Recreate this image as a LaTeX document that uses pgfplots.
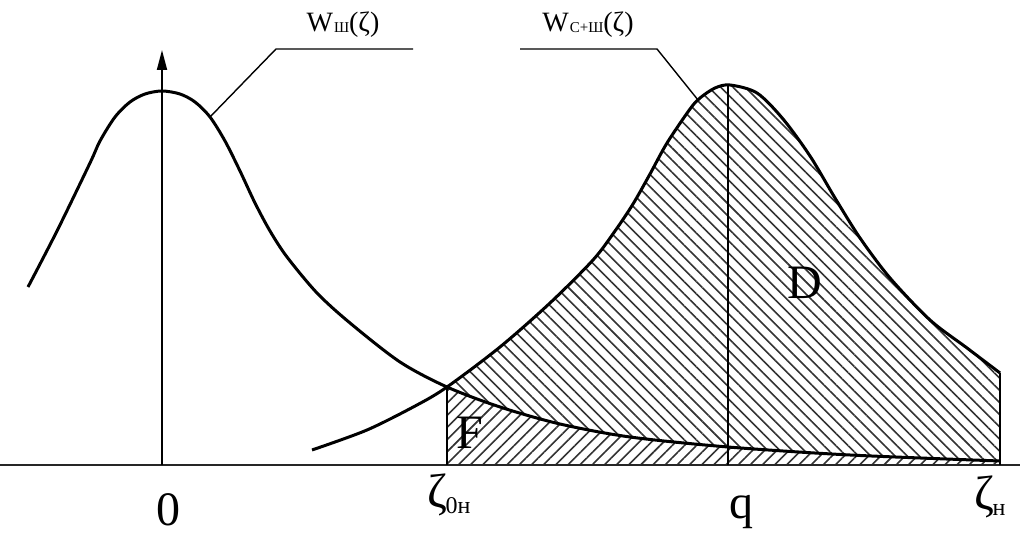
\documentclass[border=0pt]{standalone}
\usepackage{fontspec}
\setmainfont{Liberation Serif}
\usepackage{pgfplots}
\pgfplotsset{compat=1.18}
\usepgfplotslibrary{fillbetween}
\usetikzlibrary{patterns.meta,arrows.meta}

\newcommand{\lbig}{\fontsize{24}{28}\selectfont}
\newcommand{\lmid}{\fontsize{14}{16}\selectfont}
\newcommand{\lsub}{\fontsize{7.5}{9}\selectfont}
\newcommand{\lsubb}{\fontsize{12}{14}\selectfont}

\begin{document}
\begin{tikzpicture}
\begin{axis}[
  set layers,
  width=510pt, height=267pt, scale only axis,
  xmin=0, xmax=1020, ymin=0, ymax=534,
  hide axis, clip=false,
  every node/.append style={inner sep=0pt},
]
% baseline
\addplot[name path=base, line width=0.8pt, black!85] coordinates {(0,69) (1020,69)};

% noise density W_Sh
\addplot[name path=wsh, smooth, line width=1.5pt, black] coordinates {
  (28,247) (57,303) (90,371) (100,393) (115,417) (130,432) (145,440)
  (162,443) (180,440) (195,432) (210,417) (225,393) (240,363) (255,331)
  (270,303) (287,277) (317,241) (350,211) (400,172) (447,147) (500,127)
  (560,110) (630,97) (728,87) (850,79) (1000,73)};

% signal + noise density W_{C+Sh}
\addplot[name path=wcs, smooth, line width=1.5pt, black] coordinates {
  (312,84) (367,104) (417,129) (447,147) (500,187) (550,231) (593,274)
  (615,303) (633,330) (650,360) (667,391) (690,425) (700,436) (715,446)
  (730,449) (757,441) (783,415) (810,378) (835,336) (860,296) (890,256)
  (930,214) (967,186) (1000,161)};

% hatched regions D and F
\addplot[draw=none, pattern={Lines[angle=-45,distance=4.3pt,line width=0.8pt]}, pattern color=black!80]
  fill between[of=wcs and wsh, soft clip={domain=447:1000}];
\addplot[draw=none, pattern={Lines[angle=45,distance=4.3pt,line width=0.8pt]}, pattern color=black!80]
  fill between[of=wsh and base, soft clip={domain=447:1000}];

% vertical guides
\addplot[line width=1.2pt, black] coordinates {(447,69) (447,147)};
\addplot[line width=1.2pt, black] coordinates {(1000,69) (1000,161)};
\addplot[line width=0.6pt, black] coordinates {(728,69) (728,449)};
\addplot[line width=0.9pt, black, -{Triangle[length=10pt,width=5pt]}] coordinates {(162,69) (162,484)};

% leader lines for the curve labels
\addplot[line width=0.7pt, black] coordinates {(210,417) (276,485) (413,485)};
\addplot[line width=0.7pt, black] coordinates {(520,485) (657,485) (698,434)};

% labels
\node at (axis cs:343,509) {\lmid W\kern0.5pt\raisebox{-0.5pt}{\lsub Ш}(ζ)};
\node at (axis cs:588,509) {\lmid W\kern0.5pt\raisebox{-0.5pt}{\lsub С+Ш}(ζ)};
\node at (axis cs:168,24) {\lbig 0};
\node at (axis cs:741,22) {\lbig q};
\node at (axis cs:449,39) {\lbig ζ\kern-1pt\raisebox{-3pt}{\lsubb 0н}};
\node at (axis cs:990,37) {\lbig ζ\kern-1pt\raisebox{-3pt}{\lsubb н}};
\node at (axis cs:805,251) {\lbig D};
\node at (axis cs:470,101) {\lbig F};
\end{axis}
\pgfresetboundingbox
\path (current axis.south west) rectangle (current axis.north east);
\end{tikzpicture}
\end{document}
